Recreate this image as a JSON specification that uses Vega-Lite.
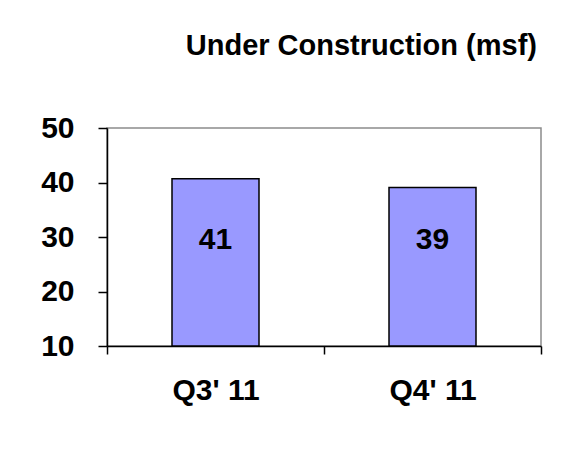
{
  "$schema": "https://vega.github.io/schema/vega-lite/v6.json",
  "width": 434,
  "height": 218,
  "autosize": {"type": "none"},
  "padding": {"left": 107, "top": 128, "right": 34, "bottom": 107},
  "background": "white",
  "title": {
    "text": "Under Construction (msf)",
    "anchor": "end",
    "frame": "group",
    "font": "Liberation Sans",
    "fontSize": 29,
    "fontWeight": "bold",
    "color": "#000000",
    "baseline": "alphabetic",
    "offset": 29,
    "dx": -4
  },
  "config": {
    "view": {"stroke": "#8c8c8c", "strokeWidth": 1.5},
    "axis": {"grid": false}
  },
  "data": {
    "values": [
      {"quarter": "Q3' 11", "value": 40.7},
      {"quarter": "Q4' 11", "value": 39.1}
    ]
  },
  "encoding": {
    "x": {
      "field": "quarter",
      "type": "nominal",
      "sort": null,
      "scale": {"paddingInner": 0, "paddingOuter": 0},
      "axis": {
        "title": null,
        "labelAngle": 0,
        "tickBand": "extent",
        "labelFont": "Liberation Sans",
        "labelFontSize": 30,
        "labelFontWeight": "bold",
        "labelColor": "#000000",
        "labelPadding": 21,
        "tickSize": 8,
        "tickColor": "#000000",
        "tickWidth": 1.5,
        "domainColor": "#000000",
        "domainWidth": 1.5
      }
    }
  },
  "layer": [
    {
      "mark": {"type": "bar", "size": 87, "fill": "#9999ff", "stroke": "#000000", "strokeWidth": 1.5},
      "encoding": {
        "y": {
          "field": "value",
          "type": "quantitative",
          "scale": {"domain": [10, 50], "nice": false, "zero": false},
          "axis": {
            "title": null,
            "values": [10, 20, 30, 40, 50],
            "labelFont": "Liberation Sans",
            "labelFontSize": 30,
            "labelFontWeight": "bold",
            "labelColor": "#000000",
            "labelPadding": 24,
            "tickSize": 9,
            "tickColor": "#000000",
            "tickWidth": 1.5,
            "domainColor": "#000000",
            "domainWidth": 1.5
          }
        },
        "y2": {"datum": 10}
      }
    },
    {
      "mark": {"type": "text", "font": "Liberation Sans", "fontSize": 30, "fontWeight": "bold", "color": "#000000", "baseline": "middle"},
      "encoding": {
        "y": {"datum": 29.5, "type": "quantitative"},
        "text": {"field": "value", "type": "quantitative", "format": ".0f"}
      }
    }
  ]
}
